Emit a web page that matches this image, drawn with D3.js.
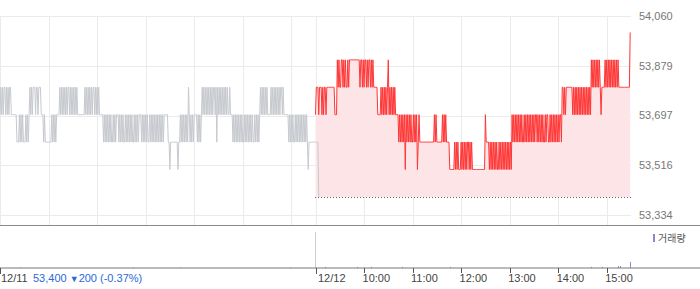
<!DOCTYPE html>
<html>
<head>
<meta charset="utf-8">
<script src="https://cdn.jsdelivr.net/npm/d3@7"></script>
<style>
  html, body { margin: 0; padding: 0; background: #fff; }
  svg { display: block; font-family: "Liberation Sans", Arial, sans-serif; }
</style>
</head>
<body>
<script>
// Price data: one char per minute, price = 53400 + 100 * digit
const day1Ticks = [
  "343434434343443", "33333", "3222323232223232", "3434344434434443", "33",
  "2322222222323232", "3333", "4343434343443434343434", "333333333",
  "434343434344343434", "33333",
  "2323232323223232333232323223232323232232323233323232323223232323232323232323",
  "3333", "221222222222122", "3232323232", "4", "3232323333232323",
  "434343434343434434243434343434343343",
  "33232323232323223232323232322323232",
  "3434343434333343434343434344343",
  "33333", "232323223232323232323232", "1", "222222222222", "0"
];
const day2Ticks = [
  "344434443434434444444444333", "5454455454544545", "55555555555",
  "5455454554545545454", "444433334343434345343434343", "333",
  "232323231323232322323231232", "22222222222222222", "3232", "222222",
  "32323", "2222", "1111112121211121212121221212", "1111111111111111",
  "3", "2222", "1212121212112121212121212121",
  "32323232323232232323232323232332323232322323322323232323232332",
  "443434444444434343434343434343434343",
  "5454545454543444454545454545454545",
  "44444444444444", "6"
];
const basePrice = 53400;
const priceStep = 100;

const prevClose = 53400;
const dayChange = -200;
const dayChangePct = -0.37;

const yTicks = [53334, 53516, 53697, 53879, 54060];
const sessionLabels = ["12/11", "12/12"];
const hourLabels = ["10:00", "11:00", "12:00", "13:00", "14:00", "15:00"];
const minutesPerSession = 390;

// Volume (global minute index, shares)
const volMinutes = [25, 165, 223, 359, 402, 441, 459, 497, 556, 730, 744, 764, 766, 779];
const volValues = [900, 900, 900, 900, 900, 900, 900, 900, 900, 900, 900, 1700, 1700, 5000];

const width = 700, height = 289;
const plotRight = 631;

const parseSeries = (segs, offset) =>
  segs.join("").split("").map((c, i) => ({ m: offset + i, v: basePrice + priceStep * +c }));

const day1 = parseSeries(day1Ticks, 0);
const day2 = parseSeries(day2Ticks, minutesPerSession);

const x = d3.scaleLinear().domain([0, minutesPerSession * 2]).range([0, plotRight]);
const y = d3.scaleLinear().domain([53334, 54060]).range([215, 16]);
const yVol = d3.scaleLinear().domain([0, 30000]).range([268, 232]);

const svg = d3.select("body").append("svg")
  .attr("width", width)
  .attr("height", height);

// hour grid positions
const hourMinute = (lbl) => (+lbl.split(":")[0] - 9) * 60;
const gridMinutes = [0];
sessionLabels.forEach((s, si) => {
  if (si > 0) gridMinutes.push(si * minutesPerSession);
  hourLabels.forEach((h) => gridMinutes.push(si * minutesPerSession + hourMinute(h)));
});

// Horizontal gridlines
svg.append("g")
  .selectAll("line")
  .data(yTicks)
  .join("line")
  .attr("x1", 0)
  .attr("x2", plotRight)
  .attr("y1", (d) => Math.round(y(d)) + 0.5)
  .attr("y2", (d) => Math.round(y(d)) + 0.5)
  .attr("stroke", "#ebebeb");

// Vertical gridlines
svg.append("g")
  .selectAll("line")
  .data(gridMinutes)
  .join("line")
  .attr("x1", (d) => Math.round(x(d)) + 0.5)
  .attr("x2", (d) => Math.round(x(d)) + 0.5)
  .attr("y1", 16)
  .attr("y2", 225)
  .attr("stroke", "#ebebeb");

// Y labels
svg.append("g")
  .selectAll("text")
  .data(yTicks)
  .join("text")
  .attr("x", 639)
  .attr("y", (d) => y(d))
  .attr("dy", "0.36em")
  .attr("font-size", "11px")
  .attr("fill", "#777")
  .text((d) => d3.format(",")(d));

// Day 2 area (from previous close)
svg.append("path")
  .datum(day2)
  .attr("fill", "#fde5e7")
  .attr("d", d3.area().x((d) => x(d.m)).y0(y(prevClose)).y1((d) => y(d.v)));

// Previous close dotted line
svg.append("line")
  .attr("x1", x(minutesPerSession) - 0.5)
  .attr("x2", plotRight)
  .attr("y1", Math.round(y(prevClose)) + 0.5)
  .attr("y2", Math.round(y(prevClose)) + 0.5)
  .attr("stroke", "#666")
  .attr("stroke-dasharray", "1,2");

const line = d3.line().x((d) => x(d.m)).y((d) => y(d.v));

svg.append("path")
  .datum(day1)
  .attr("fill", "none")
  .attr("stroke", "#c6c9ce")
  .attr("stroke-width", 1)
  .attr("d", line);

svg.append("path")
  .datum(day2)
  .attr("fill", "none")
  .attr("stroke", "#ff3636")
  .attr("stroke-width", 1)
  .attr("d", line);

// Panel separator
svg.append("line")
  .attr("x1", 0).attr("x2", width)
  .attr("y1", 225.5).attr("y2", 225.5)
  .attr("stroke", "#8a8a8a");

// Day divider in volume panel
svg.append("line")
  .attr("x1", Math.round(x(minutesPerSession)) - 0.5)
  .attr("x2", Math.round(x(minutesPerSession)) - 0.5)
  .attr("y1", 232).attr("y2", 268)
  .attr("stroke", "#cfcfcf");

// Volume bars
svg.append("g")
  .selectAll("rect")
  .data(volMinutes.map((m, i) => ({ m, v: volValues[i] })))
  .join("rect")
  .attr("x", (d) => Math.round(x(d.m)))
  .attr("width", 1)
  .attr("y", (d) => yVol(d.v))
  .attr("height", (d) => 268 - yVol(d.v))
  .attr("fill", (d) => (d.m < minutesPerSession ? "#c4c4cc" : "#9489d4"));

// Volume axis
svg.append("line")
  .attr("x1", 0).attr("x2", width)
  .attr("y1", 268).attr("y2", 268)
  .attr("stroke", "#777");

// Axis ticks + labels
const tickData = [];
sessionLabels.forEach((s, si) => {
  tickData.push({ m: si * minutesPerSession, label: si === 0 ? s : s, day: true });
  if (si > 0) {
    hourLabels.forEach((h) => tickData.push({ m: si * minutesPerSession + hourMinute(h), label: h }));
  }
});

svg.append("g")
  .selectAll("line")
  .data(tickData)
  .join("line")
  .attr("x1", (d) => Math.round(x(d.m)) + 0.5)
  .attr("x2", (d) => Math.round(x(d.m)) + 0.5)
  .attr("y1", 268)
  .attr("y2", (d) => (d.day ? 274 : 273))
  .attr("stroke", "#555");

svg.append("g")
  .selectAll("text")
  .data(tickData)
  .join("text")
  .attr("x", (d) => (d.day ? Math.round(x(d.m)) + (d.m === 0 ? 1 : 2) : x(d.m) - 1.5))
  .attr("y", 282)
  .attr("font-size", "11px")
  .attr("fill", "#444")
  .text((d) => d.label);

// Day 1 close summary
const summary = svg.append("text")
  .attr("x", 33)
  .attr("y", 282)
  .attr("font-size", "11px")
  .attr("fill", "#2a6ad6");
summary.append("tspan").text(d3.format(",")(prevClose) + " ");
summary.append("tspan").attr("font-size", "9px").text(dayChange < 0 ? "▼" : "▲");
summary.append("tspan").text(Math.abs(dayChange) + " (" + dayChangePct.toFixed(2) + "%)");

// Legend
svg.append("rect")
  .attr("x", 653).attr("y", 234)
  .attr("width", 2).attr("height", 8)
  .attr("fill", "#8e84cc");
svg.append("text")
  .attr("x", 658).attr("y", 242)
  .attr("font-size", "10px")
  .attr("font-family", "'Noto Sans CJK KR', sans-serif")
  .attr("fill", "#555")
  .text("거래량");
</script>
</body>
</html>
